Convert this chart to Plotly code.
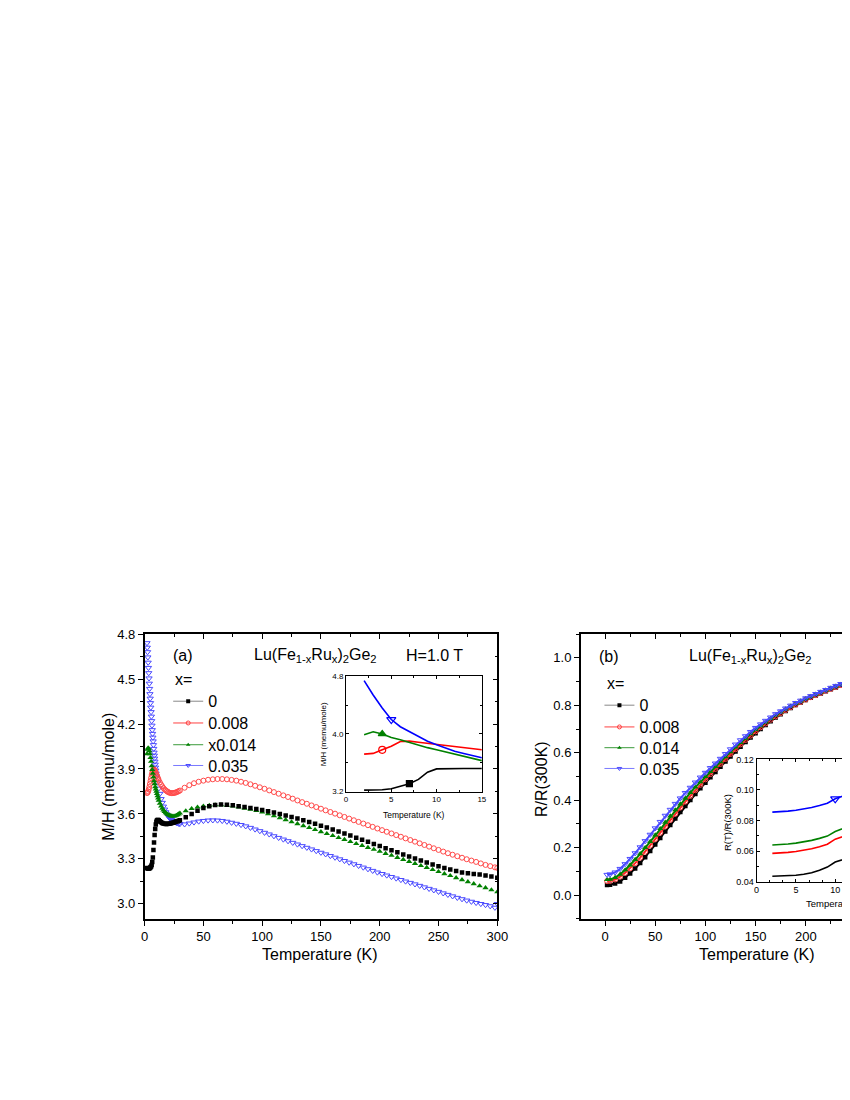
import plotly.graph_objects as go

# ---------------- panel (a): M/H vs T ----------------
# low temperature, dense points
t_low = [2.0, 2.5, 3.0, 3.5, 4.0, 4.5, 5.0, 5.5, 6.0, 6.5, 7.0, 7.5, 8.0, 8.5, 9.0, 9.5,
         10.0, 10.5, 11.0, 11.5, 12.0, 13, 14, 15, 16, 17, 18, 19, 20, 21, 22, 23, 24,
         25, 26, 27, 28, 29, 30]
mh0_low = [3.24, 3.238, 3.236, 3.236, 3.238, 3.24, 3.245, 3.25, 3.26, 3.28, 3.31, 3.36,
           3.41, 3.46, 3.50, 3.53, 3.548, 3.556, 3.56, 3.56, 3.558, 3.551, 3.544, 3.539,
           3.536, 3.534, 3.533, 3.533, 3.534, 3.535, 3.537, 3.539, 3.541, 3.543, 3.546,
           3.549, 3.552, 3.555, 3.558]
mh008_low = [3.74, 3.742, 3.75, 3.763, 3.78, 3.80, 3.82, 3.84, 3.86, 3.877, 3.89, 3.896,
             3.897, 3.893, 3.886, 3.876, 3.865, 3.855, 3.845, 3.835, 3.825, 3.81, 3.796,
             3.784, 3.773, 3.764, 3.757, 3.751, 3.746, 3.742, 3.74, 3.739, 3.739, 3.74,
             3.742, 3.745, 3.748, 3.752, 3.756]
mh014_low = [4.00, 4.03, 4.04, 4.035, 4.02, 4.00, 3.975, 3.95, 3.92, 3.895, 3.87, 3.845,
             3.82, 3.80, 3.78, 3.765, 3.75, 3.735, 3.72, 3.705, 3.69, 3.67, 3.652, 3.637,
             3.625, 3.615, 3.607, 3.60, 3.595, 3.591, 3.588, 3.586, 3.585, 3.585, 3.587,
             3.59, 3.594, 3.599, 3.605]
t_low_035 = [2.0, 2.25, 2.5, 2.75, 3.0, 3.25, 3.5, 3.75, 4.0, 4.25, 4.5, 4.75, 5.0, 5.25,
             5.5, 5.75, 6.0, 6.25, 6.5, 6.75, 7.0, 7.25, 7.5, 7.75, 8.0, 8.25, 8.5, 8.75,
             9.0, 9.25, 9.5, 9.75, 10.0, 11, 12, 13, 14, 15, 16, 17, 18, 19, 20, 21, 22,
             23, 24, 25, 26, 27, 28, 29, 30]
mh035_low = [4.74, 4.71, 4.68, 4.645, 4.61, 4.575, 4.54, 4.505, 4.47, 4.435, 4.40, 4.37,
             4.34, 4.31, 4.28, 4.25, 4.22, 4.19, 4.16, 4.135, 4.11, 4.085, 4.06, 4.035,
             4.01, 3.99, 3.97, 3.95, 3.93, 3.91, 3.89, 3.87, 3.85, 3.81, 3.77, 3.735, 3.70,
             3.675, 3.65, 3.63, 3.612, 3.597, 3.585, 3.575, 3.567, 3.56, 3.554, 3.549,
             3.545, 3.541, 3.538, 3.535, 3.533]

# higher temperature, every 5 K (x = 0 and 0.014)
t_hi5 = list(range(35, 301, 5))
mh0_hi = [3.578, 3.60, 3.622, 3.64, 3.652, 3.66, 3.663, 3.662, 3.658, 3.652, 3.646, 3.64,
          3.633, 3.626, 3.618, 3.609, 3.60, 3.59, 3.58, 3.569, 3.558, 3.546, 3.534, 3.522,
          3.509, 3.496, 3.483, 3.47, 3.456, 3.442, 3.428, 3.414, 3.40, 3.386, 3.372, 3.358,
          3.344, 3.33, 3.316, 3.302, 3.289, 3.276, 3.263, 3.251, 3.24, 3.229, 3.219, 3.21,
          3.204, 3.20, 3.196, 3.19, 3.183, 3.175]
mh014_hi = [3.62, 3.635, 3.645, 3.652, 3.657, 3.66, 3.66, 3.657, 3.652, 3.645, 3.638, 3.63,
            3.622, 3.613, 3.60, 3.587, 3.574, 3.561, 3.547, 3.534, 3.521, 3.508, 3.495,
            3.481, 3.468, 3.455, 3.442, 3.429, 3.415, 3.402, 3.389, 3.376, 3.363, 3.35,
            3.336, 3.323, 3.309, 3.296, 3.282, 3.269, 3.255, 3.242, 3.228, 3.215, 3.201,
            3.188, 3.174, 3.161, 3.147, 3.134, 3.12, 3.107, 3.093, 3.08]

# higher temperature, every 4 K (x = 0.008 and 0.035)
t_hi4 = list(range(34, 299, 4)) + [300]
mh008_hi = [3.775, 3.792, 3.805, 3.815, 3.822, 3.828, 3.831, 3.833, 3.833, 3.831, 3.827,
            3.822, 3.815, 3.807, 3.798, 3.788, 3.778, 3.768, 3.757, 3.746, 3.735, 3.724,
            3.713, 3.702, 3.69, 3.679, 3.668, 3.657, 3.646, 3.635, 3.624, 3.613, 3.602,
            3.591, 3.58, 3.569, 3.558, 3.547, 3.536, 3.525, 3.514, 3.503, 3.492, 3.481,
            3.47, 3.459, 3.448, 3.437, 3.426, 3.415, 3.404, 3.393, 3.382, 3.371, 3.36,
            3.349, 3.338, 3.328, 3.318, 3.308, 3.298, 3.289, 3.28, 3.27, 3.26, 3.252,
            3.244, 3.24]
mh035_hi = [3.531, 3.537, 3.544, 3.55, 3.554, 3.557, 3.558, 3.557, 3.554, 3.549, 3.542,
            3.535, 3.527, 3.518, 3.508, 3.497, 3.486, 3.475, 3.464, 3.452, 3.441, 3.43,
            3.419, 3.408, 3.397, 3.386, 3.375, 3.364, 3.353, 3.342, 3.331, 3.32, 3.309,
            3.298, 3.287, 3.276, 3.265, 3.254, 3.243, 3.232, 3.221, 3.21, 3.20, 3.19, 3.18,
            3.17, 3.16, 3.15, 3.141, 3.131, 3.121, 3.111, 3.101, 3.091, 3.081, 3.071, 3.061,
            3.051, 3.041, 3.032, 3.023, 3.015, 3.007, 3.0, 2.993, 2.985, 2.975, 3.0]

# inset (a)
t_ins_a = [2, 3, 4, 5, 6, 7, 8, 9, 10, 11, 12, 13, 14, 15]
ins_a_0 = [3.22, 3.22, 3.225, 3.24, 3.27, 3.31, 3.37, 3.47, 3.515, 3.52, 3.52, 3.52, 3.52, 3.52]
ins_a_008 = [3.72, 3.73, 3.78, 3.83, 3.895, 3.90, 3.885, 3.87, 3.86, 3.845, 3.835, 3.82, 3.80, 3.78]
ins_a_014 = [3.99, 4.03, 4.00, 3.95, 3.92, 3.88, 3.845, 3.81, 3.78, 3.75, 3.72, 3.69, 3.66, 3.63]
ins_a_035 = [4.74, 4.54, 4.36, 4.20, 4.10, 4.03, 3.96, 3.90, 3.85, 3.80, 3.76, 3.73, 3.70, 3.67]

# ---------------- panel (b): R/R(300K) vs T ----------------
t_b = [2] + list(range(5, 301, 5))
rr0 = [0.043, 0.044, 0.049, 0.058, 0.073, 0.091, 0.112, 0.135, 0.16, 0.186, 0.213, 0.241,
       0.268, 0.296, 0.323, 0.35, 0.376, 0.401, 0.426, 0.45, 0.474, 0.497, 0.519, 0.541,
       0.563, 0.584, 0.605, 0.625, 0.645, 0.664, 0.682, 0.70, 0.717, 0.733, 0.748, 0.762,
       0.776, 0.789, 0.801, 0.812, 0.822, 0.832, 0.841, 0.85, 0.859, 0.867, 0.875, 0.883,
       0.891, 0.90, 0.908, 0.916, 0.925, 0.934, 0.942, 0.951, 0.96, 0.97, 0.98, 0.99, 1.0]
rr008 = [0.059, 0.06, 0.066, 0.078, 0.094, 0.113, 0.135, 0.158, 0.183, 0.209, 0.236, 0.263,
         0.29, 0.317, 0.343, 0.369, 0.394, 0.418, 0.442, 0.465, 0.488, 0.51, 0.532, 0.553,
         0.574, 0.595, 0.615, 0.635, 0.654, 0.672, 0.69, 0.707, 0.723, 0.739, 0.753, 0.767,
         0.78, 0.792, 0.803, 0.814, 0.824, 0.834, 0.843, 0.852, 0.861, 0.869, 0.877, 0.885,
         0.893, 0.902, 0.91, 0.918, 0.926, 0.935, 0.943, 0.952, 0.961, 0.97, 0.98, 0.99, 1.0]
rr014 = [0.065, 0.066, 0.074, 0.088, 0.106, 0.127, 0.15, 0.174, 0.20, 0.226, 0.253, 0.28,
         0.307, 0.333, 0.359, 0.384, 0.408, 0.432, 0.455, 0.477, 0.499, 0.52, 0.541, 0.562,
         0.583, 0.604, 0.624, 0.643, 0.661, 0.679, 0.697, 0.713, 0.729, 0.744, 0.758, 0.771,
         0.784, 0.796, 0.807, 0.818, 0.828, 0.837, 0.846, 0.855, 0.863, 0.872, 0.88, 0.888,
         0.896, 0.904, 0.912, 0.92, 0.928, 0.936, 0.945, 0.954, 0.962, 0.971, 0.98, 0.99, 1.0]
rr035 = [0.086, 0.088, 0.096, 0.111, 0.131, 0.153, 0.177, 0.202, 0.228, 0.255, 0.282, 0.309,
         0.335, 0.36, 0.385, 0.408, 0.431, 0.453, 0.475, 0.496, 0.516, 0.536, 0.555, 0.575,
         0.595, 0.615, 0.635, 0.653, 0.67, 0.688, 0.705, 0.72, 0.735, 0.749, 0.763, 0.775,
         0.787, 0.799, 0.81, 0.82, 0.83, 0.839, 0.848, 0.857, 0.865, 0.874, 0.882, 0.89,
         0.898, 0.906, 0.914, 0.922, 0.93, 0.938, 0.946, 0.955, 0.963, 0.972, 0.981, 0.99, 1.0]

# inset (b)
t_ins_b = [2, 3, 4, 5, 6, 7, 8, 9, 10, 11, 12]
ins_b_0 = [0.0435, 0.0436, 0.0438, 0.0442, 0.0448, 0.0458, 0.0475, 0.0495, 0.0528, 0.0545, 0.056]
ins_b_008 = [0.0585, 0.0587, 0.0591, 0.0597, 0.0605, 0.0615, 0.0628, 0.0645, 0.0678, 0.0694, 0.0712]
ins_b_014 = [0.064, 0.0642, 0.0646, 0.0652, 0.066, 0.067, 0.0683, 0.0698, 0.0728, 0.0748, 0.0768]
ins_b_035 = [0.0855, 0.0857, 0.0861, 0.0867, 0.0875, 0.0885, 0.0898, 0.0913, 0.0942, 0.096, 0.0978]

legend_a = ["0", "0.008", "x0.014", "0.035"]
legend_b = ["0", "0.008", "0.014", "0.035"]

FONT = "Liberation Sans, Arial, sans-serif"
# the page keeps an 8 px body margin; the height is trimmed so no vertical scrolling appears
OFF = 8
W, H = 850, 1100 - 2 * OFF


def px(x):
    return (x - OFF) / W


def py(y):
    return 1 - (y - OFF) / H


fig = go.Figure()

# main (a) traces
blue_m = dict(symbol="triangle-down-open", size=5.5, color="#4a4aff", line=dict(width=1))
red_m = dict(symbol="circle-open", size=5, color="#ff4a4a", line=dict(width=1))
green_m = dict(symbol="triangle-up", size=5.5, color="#008000")
black_m = dict(symbol="square", size=4.5, color="black")

fig.add_trace(go.Scatter(x=t_low_035 + t_hi4, y=mh035_low + mh035_hi, mode="markers",
                         marker=blue_m, showlegend=False))
fig.add_trace(go.Scatter(x=t_low + t_hi4, y=mh008_low + mh008_hi, mode="markers",
                         marker=red_m, showlegend=False))
fig.add_trace(go.Scatter(x=t_low + t_hi5, y=mh014_low + mh014_hi, mode="markers",
                         marker=green_m, showlegend=False))
fig.add_trace(go.Scatter(x=t_low + t_hi5, y=mh0_low + mh0_hi, mode="markers",
                         marker=black_m, showlegend=False))

# inset (a)
ins_cols = ["black", "red", "#008000", "blue"]
ins_a = [ins_a_0, ins_a_008, ins_a_014, ins_a_035]
ins_a_sym = [("square", 6, 5), ("circle-open", 7, 2), ("triangle-up", 7, 2),
             ("triangle-down-open", 8, 3)]
for vals, col, (sym, sz, idx) in zip(ins_a, ins_cols, ins_a_sym):
    fig.add_trace(go.Scatter(x=t_ins_a, y=vals, mode="lines", xaxis="x2", yaxis="y2",
                             line=dict(color=col, width=1.6), showlegend=False))
    fig.add_trace(go.Scatter(x=[t_ins_a[idx]], y=[vals[idx]], mode="markers", xaxis="x2",
                             yaxis="y2", marker=dict(symbol=sym, size=sz, color=col,
                                                     line=dict(width=1.2, color=col)),
                             showlegend=False))

# main (b) traces
b_series = [(rr0, "black", black_m), (rr008, "#ff2020", red_m),
            (rr014, "#008000", green_m), (rr035, "#4a4aff", blue_m)]
for vals, col, mk in b_series:
    fig.add_trace(go.Scatter(x=t_b, y=vals, mode="lines+markers", xaxis="x3", yaxis="y3",
                             line=dict(color=col, width=2), marker=mk, showlegend=False))

# inset (b)
ins_b = [ins_b_0, ins_b_008, ins_b_014, ins_b_035]
for vals, col in zip(ins_b, ins_cols):
    fig.add_trace(go.Scatter(x=t_ins_b, y=vals, mode="lines", xaxis="x4", yaxis="y4",
                             line=dict(color=col, width=1.6), showlegend=False))
fig.add_trace(go.Scatter(x=[t_ins_b[8]], y=[ins_b_035[8]], mode="markers", xaxis="x4",
                         yaxis="y4", marker=dict(symbol="triangle-down-open", size=8,
                                                 color="blue", line=dict(width=1.2)),
                         showlegend=False))

# dummy traces so the top/right tick axes are drawn
fig.add_trace(go.Scatter(x=[None], y=[None], xaxis="x5", yaxis="y5", showlegend=False))
fig.add_trace(go.Scatter(x=[None], y=[None], xaxis="x6", yaxis="y6", showlegend=False))

# legend entries, one legend per row
leg_line = ["#888888", "#ff4040", "#3a9a3a", "#7a7aff"]
leg_marker = [dict(symbol="square", size=4, color="black"),
              dict(symbol="circle-open", size=4, color="#ff4040"),
              dict(symbol="triangle-up", size=4, color="#008000"),
              dict(symbol="triangle-down-open", size=4, color="#4a4aff")]
rows_a = [702, 724, 746, 767]
rows_b = [706, 728, 749, 770]
legends = {}
for i in range(4):
    for j, (names, rows, x0) in enumerate([(legend_a, rows_a, 172), (legend_b, rows_b, 611)]):
        k = i + 4 * j + 1
        lname = "legend" if k == 1 else "legend%d" % k
        fig.add_trace(go.Scatter(x=[None], y=[None], mode="lines+markers", name=names[i],
                                 line=dict(color=leg_line[i], width=1), marker=leg_marker[i],
                                 legend=lname, xaxis="x" if j == 0 else "x3",
                                 yaxis="y" if j == 0 else "y3"))
        legends[lname] = dict(x=px(x0 - 5), y=py(rows[i]), xanchor="left", yanchor="middle",
                              bgcolor="rgba(0,0,0,0)", borderwidth=0,
                              font=dict(family=FONT, size=16, color="black"),
                              itemsizing="trace")

axis_common = dict(showgrid=False, zeroline=False, showline=True, linecolor="black",
                   tickcolor="black", tickfont=dict(family=FONT, size=13, color="black"))
main_x = dict(axis_common, linewidth=1.5, ticks="outside", ticklen=5, tickwidth=1.2)
ins_common = dict(showgrid=False, zeroline=False, showline=True, linecolor="black",
                  linewidth=1, tickcolor="black", ticks="inside", ticklen=3, mirror="ticks")

# panel (b) and its inset run past the right edge of the window
b_range = [-24.2, 241.1]
ins_b_range = [0, 11.5]

fig.update_layout(
    width=W, height=H, margin=dict(l=0, r=0, t=0, b=0),
    paper_bgcolor="white", plot_bgcolor="rgba(0,0,0,0)",
    font=dict(family=FONT, color="black"),
    xaxis=dict(main_x, domain=[px(143), px(502)], range=[0, 300], dtick=50, anchor="y",
               minor=dict(dtick=25, ticks="outside", ticklen=3, tickcolor="black")),
    yaxis=dict(main_x, domain=[py(922), py(634)], range=[2.9, 4.8], dtick=0.3,
               tickformat=".1f", anchor="x",
               minor=dict(dtick=0.15, ticks="outside", ticklen=3, tickcolor="black")),
    xaxis5=dict(axis_common, linewidth=1.5, overlaying="x", side="top", anchor="y",
                range=[0, 300], dtick=50, ticks="inside", ticklen=5, showticklabels=False,
                minor=dict(dtick=25, ticks="inside", ticklen=3, tickcolor="black")),
    yaxis5=dict(axis_common, linewidth=1.5, overlaying="y", side="right", anchor="x",
                range=[2.9, 4.8], dtick=0.3, ticks="inside", ticklen=5, showticklabels=False,
                minor=dict(dtick=0.15, ticks="inside", ticklen=3, tickcolor="black")),
    xaxis2=dict(ins_common, domain=[px(348), px(486.3)], range=[0, 15], dtick=5, anchor="y2",
                tickfont=dict(family=FONT, size=8, color="black"),
                minor=dict(dtick=2.5, ticks="inside", ticklen=2, tickcolor="black")),
    yaxis2=dict(ins_common, domain=[py(793.3), py(676.7)], range=[3.2, 4.8], dtick=0.8,
                tickformat=".1f", anchor="x2",
                tickfont=dict(family=FONT, size=8, color="black"),
                minor=dict(dtick=0.4, ticks="inside", ticklen=2, tickcolor="black")),
    xaxis3=dict(main_x, domain=[px(587), 1.0], range=b_range, dtick=50, tick0=0,
                anchor="y3",
                minor=dict(dtick=25, ticks="outside", ticklen=3, tickcolor="black")),
    yaxis3=dict(main_x, domain=[py(922), py(634)], range=[-0.1, 1.1], dtick=0.2,
                tickformat=".1f", anchor="x3",
                minor=dict(dtick=0.1, ticks="outside", ticklen=3, tickcolor="black")),
    xaxis6=dict(axis_common, linewidth=1.5, overlaying="x3", side="top", anchor="y3",
                range=b_range, dtick=50, tick0=0, ticks="inside", ticklen=5,
                showticklabels=False,
                minor=dict(dtick=25, ticks="inside", ticklen=3, tickcolor="black")),
    yaxis6=dict(overlaying="y3", visible=False, range=[-0.1, 1.1]),
    xaxis4=dict(ins_common, domain=[px(766), 1.0], range=ins_b_range, dtick=5, anchor="y4",
                tickfont=dict(family=FONT, size=9, color="black"),
                minor=dict(dtick=5 / 3, ticks="inside", ticklen=2, tickcolor="black")),
    yaxis4=dict(ins_common, domain=[py(884.3), py(760.7)], range=[0.04, 0.12], dtick=0.02,
                tickformat=".2f", anchor="x4",
                tickfont=dict(family=FONT, size=9, color="black"),
                minor=dict(dtick=0.01, ticks="inside", ticklen=2, tickcolor="black")),
    **legends,
)

title_html = "Lu(Fe<sub>1-x</sub>Ru<sub>x</sub>)<sub>2</sub>Ge<sub>2</sub>"
notes = [
    ("(a)", 170, 656, 16, "left", 0),
    (title_html, 252, 656, 16, "left", 0),
    ("H=1.0 T", 407, 656, 16, "left", 0),
    ("x=", 172, 680, 16, "left", 0),
    ("(b)", 603, 657, 16, "left", 0),
    (title_html, 695, 657, 16, "left", 0),
    ("x=", 612, 684, 16, "left", 0),
    ("M/H (memu/mole)", 106, 778, 16, "center", -90),
    ("Temperature (K)", 322, 958, 16, "center", 0),
    ("R/R(300K)", 547, 780, 16, "center", -90),
    ("Temperature (K)", 766, 958, 16, "center", 0),
    ("M/H (memu/mole)", 326, 735, 8, "center", -90),
    ("Temperature (K)", 417, 817, 8.5, "center", 0),
    ("R(T)/R(300K)", 737, 825, 9.5, "center", -90),
    ("Temperature (K)", 814, 906, 9.5, "left", 0),
]
for text, x, y, size, anchor, ang in notes:
    fig.add_annotation(text=text, x=px(x), y=py(y), xref="paper", yref="paper",
                       xanchor=anchor, yanchor="middle", textangle=ang, showarrow=False,
                       font=dict(family=FONT, size=size, color="black"))

fig.write_html("out.html")
